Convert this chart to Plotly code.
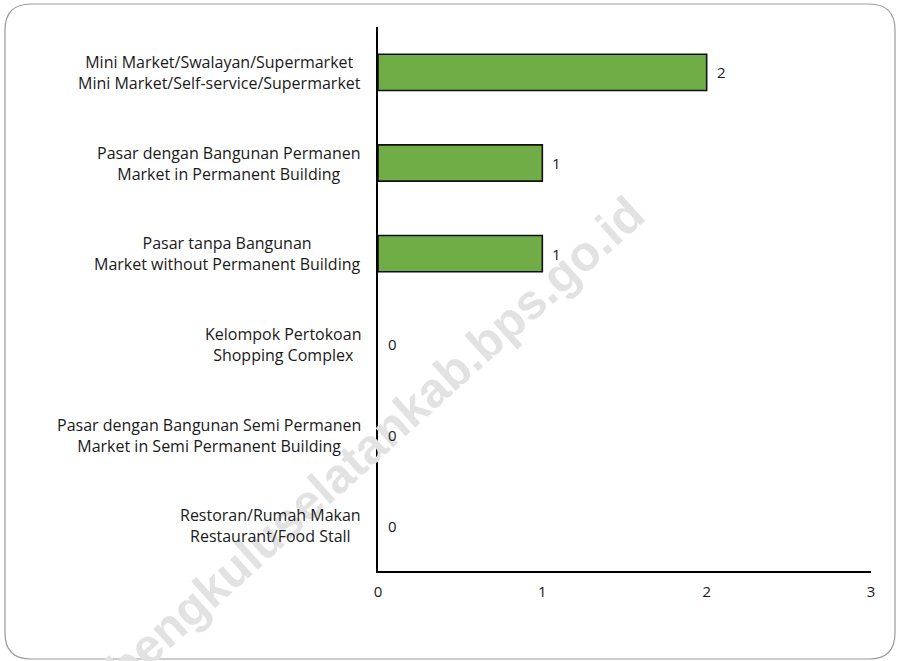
import plotly.graph_objects as go

# Data
categories_id = [
    "Mini Market/Swalayan/Supermarket",
    "Pasar dengan Bangunan Permanen",
    "Pasar tanpa Bangunan",
    "Kelompok Pertokoan",
    "Pasar dengan Bangunan Semi Permanen",
    "Restoran/Rumah Makan",
]
categories_en = [
    "Mini Market/Self-service/Supermarket",
    "Market in Permanent Building",
    "Market without Permanent Building",
    "Shopping Complex",
    "Market in Semi Permanent Building",
    "Restaurant/Food Stall",
]
values = [2, 1, 1, 0, 0, 0]
x_ticks = [0, 1, 2, 3]
watermark = "bengkuluselatankab.bps.go.id"

W, H = 897, 661
L, R, T, B = 378, 26, 27, 90
PW, PH = W - L - R, H - T - B


def px(x):
    return (x - L) / PW


def py(y):
    return (H - B - y) / PH


cat_keys = [f"c{i}" for i in range(len(values))]
font_name = "Open Sans"
text_color = "#1a1a1a"

fig = go.Figure()
fig.add_trace(go.Bar(
    x=values, y=cat_keys, orientation="h", width=0.4,
    marker=dict(color="#70AD47",
                line=dict(color="#111111", width=[1.6 if v > 0 else 0 for v in values])),
    hoverinfo="skip", showlegend=False,
))

# watermark (drawn first so that labels sit above it)
fig.add_annotation(x=px(375), y=py(441), xref="paper", yref="paper",
                   text="<b>" + watermark + "</b>",
                   showarrow=False, textangle=-42, xanchor="center", yanchor="middle",
                   font=dict(family="Liberation Sans", size=49, color="#e2e2e2"))

# category labels (two lines, centred with each other, right-aligned block)
for k, a, b in zip(cat_keys, categories_id, categories_en):
    fig.add_annotation(x=0, xref="paper", y=k, yref="y",
                       text=a + "<br>" + b, showarrow=False, align="center",
                       xanchor="right", yanchor="middle", xshift=-15,
                       font=dict(family=font_name, size=16, color=text_color))

# value labels
for k, v in zip(cat_keys, values):
    fig.add_annotation(x=v, xref="x", y=k, yref="y", text=str(v), showarrow=False,
                       xanchor="left", yanchor="middle", xshift=8,
                       font=dict(family=font_name, size=15, color=text_color))

# rounded border
x0, y0, x1, y1, r = 5, 4, 895, 659, 26
path = (f"M {px(x0+r)},{py(y0)} L {px(x1-r)},{py(y0)} Q {px(x1)},{py(y0)} {px(x1)},{py(y0+r)} "
        f"L {px(x1)},{py(y1-r)} Q {px(x1)},{py(y1)} {px(x1-r)},{py(y1)} "
        f"L {px(x0+r)},{py(y1)} Q {px(x0)},{py(y1)} {px(x0)},{py(y1-r)} "
        f"L {px(x0)},{py(y0+r)} Q {px(x0)},{py(y0)} {px(x0+r)},{py(y0)} Z")
fig.add_shape(type="path", path=path, xref="paper", yref="paper",
              line=dict(color="#9a9a9a", width=1.2), layer="below")

fig.update_layout(
    width=W, height=H,
    margin=dict(l=L, r=R, t=T, b=B, pad=0),
    paper_bgcolor="white", plot_bgcolor="white",
    xaxis=dict(range=[0, 3], tickvals=x_ticks, showgrid=False, zeroline=False,
               showline=True, linecolor="black", linewidth=2, ticks="",
               ticklabelstandoff=6,
               tickfont=dict(family=font_name, size=15, color=text_color), fixedrange=True),
    yaxis=dict(categoryorder="array", categoryarray=cat_keys, autorange="reversed",
               showticklabels=False, showgrid=False, zeroline=False,
               showline=True, linecolor="black", linewidth=2, ticks="", fixedrange=True),
    font=dict(family=font_name),
)

fig.write_html("out.html", config={"displayModeBar": False},
               post_script="document.body.style.margin='0';document.body.style.padding='0';")
